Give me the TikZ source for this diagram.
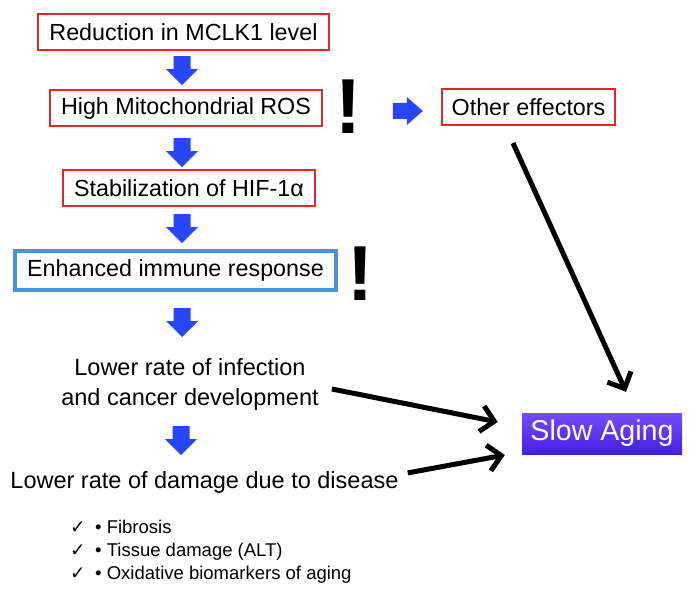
\documentclass[tikz,border=0pt]{standalone}
\usepackage{fontspec}
\setmainfont{Liberation Sans}
\newfontfamily\symfont{DejaVu Sans}
\usetikzlibrary{arrows.meta,calc}
\definecolor{boxred}{RGB}{228,38,44}
\definecolor{immblue}{RGB}{74,144,226}
\definecolor{arrblue}{RGB}{40,70,250}
\definecolor{purtop}{RGB}{116,76,252}
\definecolor{purbot}{RGB}{70,30,226}
\begin{document}
\begin{tikzpicture}[x=1pt,y=-1pt,
  redbox/.style={draw=boxred, line width=1.6pt, inner sep=0pt,
    font=\fontsize{23.3}{28}\selectfont, minimum height=36.5pt},
  immbox/.style={draw=immblue, line width=4pt, inner sep=0pt,
    font=\fontsize{23.3}{28}\selectfont, minimum height=39pt, minimum width=321pt},
  plaintext/.style={inner sep=0pt, font=\fontsize{23.5}{30}\selectfont},
  listtext/.style={inner sep=0pt, font=\fontsize{18.5}{22}\selectfont, anchor=base west},
  agebox/.style={inner sep=0pt, minimum width=160pt, minimum height=41pt,
    top color=purtop, bottom color=purbot, text=white,
    font=\fontsize{28.6}{32}\selectfont},
  bang/.style={inner sep=0pt, font=\fontsize{78}{80}\bfseries\selectfont},
  blackarrow/.style={line width=5pt, draw=black,
    -{Straight Barb[length=13pt,width=26pt]}},
  downarr/.pic={\fill[arrblue] (-8.5,0) -- (8.5,0) -- (8.5,13) -- (16,13) -- (0,29) -- (-16,13) -- (-8.5,13) -- cycle;},
  rightarr/.pic={\fill[arrblue] (0,-8) -- (14,-8) -- (14,-14) -- (30,0) -- (14,14) -- (14,8) -- (0,8) -- cycle;}
]
\useasboundingbox (0,0) rectangle (693,596);
\fill[white] (0,0) rectangle (693,596);

% boxes
\node[redbox, minimum width=291pt] (b1) at (183.5,32) {Reduction in MCLK1 level};
\node[redbox, minimum width=272pt] (b2) at (186,108) {High Mitochondrial ROS};
\node[redbox, minimum width=173pt] (b3) at (528.5,107) {Other effectors};
\node[redbox, minimum width=252pt] (b4) at (189,188) {Stabilization of HIF-1α};
\node[immbox] (b5) at (175.5,270.5) {Enhanced immune response};

% exclamation marks
\node[bang] (x1) at (348.5,107) {!};
\node[bang] (x2) at (360,273.5) {!};

% text
\node[plaintext, align=center] (lr1) at (190,384) {Lower rate of infection\\and cancer development};
\node[plaintext, anchor=base] (lr2) at (204.5,488) {Lower rate of damage due to disease};

\node[listtext] (l1) at (70,533) {\makebox[25pt][l]{\symfont ✓}• Fibrosis};
\node[listtext] (l2) at (70,556) {\makebox[25pt][l]{\symfont ✓}• Tissue damage (ALT)};
\node[listtext] (l3) at (70,579) {\makebox[25pt][l]{\symfont ✓}• Oxidative biomarkers of aging};

% slow aging
\node[agebox] (sa) at (602,433.5) {Slow Aging};

% blue block arrows
\pic at ($(b1.south)+(-1.5,5)$) {downarr};
\pic at ($(b2.south)+(-4,11)$) {downarr};
\pic at ($(b4.south)+(-7,7)$) {downarr};
\pic at ($(b5.south)+(6.5,16)$) {downarr};
\pic at ($(lr1.south)+(-9,16)$) {downarr};
\pic at ($(b2.east)+(70,3)$) {rightarr};

% black arrows
\coordinate (oeS) at ($(b3.south)+(-15.5,17)$);
\coordinate (saT) at ($(sa.north)+(24,-21)$);
\coordinate (lr1E) at ($(lr1.east)+(13,5)$);
\coordinate (saL1) at ($(sa.west)+(-24,-11.5)$);
\coordinate (lr2E) at ($(lr2.east)+(9,-9)$);
\coordinate (saL2) at ($(sa.west)+(-17,21.5)$);
\draw[blackarrow] (oeS) -- (saT);
\draw[blackarrow] (lr1E) -- (saL1);
\draw[blackarrow] (lr2E) -- (saL2);
\end{tikzpicture}
\end{document}
